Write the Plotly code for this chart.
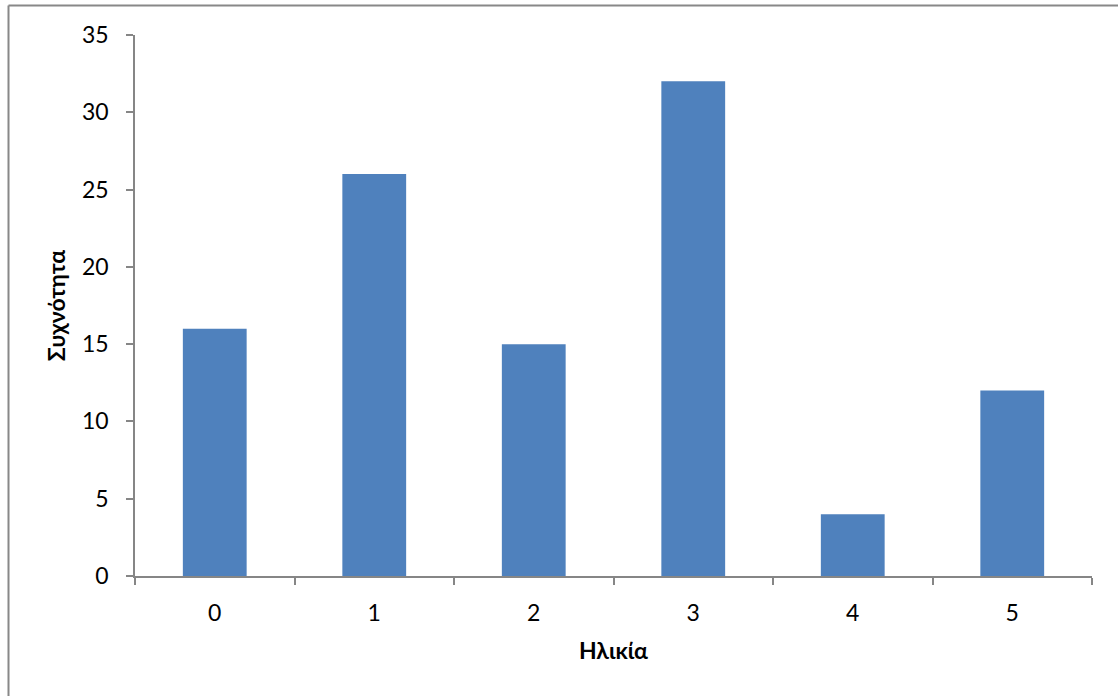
import plotly.graph_objects as go

# data
ilikia = ["0", "1", "2", "3", "4", "5"]
syxnotita = [16, 26, 15, 32, 4, 12]

W, H = 1118, 696
L, R, T, B = 135, 26, 35, 120
pw = W - L - R
ph = H - T - B

fig = go.Figure()
fig.add_trace(go.Bar(x=ilikia, y=syxnotita, marker_color="#4F81BD", marker_line_width=0))

fnt = dict(family="Lato, Open Sans, sans-serif", size=23, color="#000000")

fig.update_layout(
    width=W, height=H,
    margin=dict(l=L, r=R, t=T, b=B),
    paper_bgcolor="white", plot_bgcolor="white",
    bargap=0.6,
    showlegend=False,
    font=fnt,
    xaxis=dict(
        type="category", tickson="boundaries",
        showline=True, linecolor="#868686", linewidth=1.5,
        ticks="outside", ticklen=7, tickcolor="#868686", tickwidth=1.5,
        showgrid=False, tickfont=fnt, ticklabelstandoff=16,
        title=dict(text="<b>Ηλικία</b>", font=fnt, standoff=18),
    ),
    yaxis=dict(
        range=[0, 35], dtick=5,
        showline=True, linecolor="#868686", linewidth=1.5,
        ticks="outside", ticklen=7, tickcolor="#868686", tickwidth=1.5,
        showgrid=False, zeroline=False, tickfont=fnt, ticklabelstandoff=13,
        title=dict(text="<b>Συχνότητα</b>", font=fnt, standoff=10),
    ),
)

# outer frame (only top and left edges are visible in the crop)
x0 = (8.5 - L) / pw
y0 = 1 + (T - 5.5) / ph
fig.add_shape(type="line", xref="paper", yref="paper", x0=x0, x1=(W - L + 5) / pw, y0=y0, y1=y0,
              line=dict(color="#888888", width=2))
fig.add_shape(type="line", xref="paper", yref="paper", x0=x0, x1=x0, y0=y0, y1=-(B + 5) / ph,
              line=dict(color="#888888", width=2))

# page body has a default 8px margin, drop it so the figure sits at 0,0
fig.write_html("out.html", config={"displayModeBar": False},
               post_script="document.body.style.margin='0';")
